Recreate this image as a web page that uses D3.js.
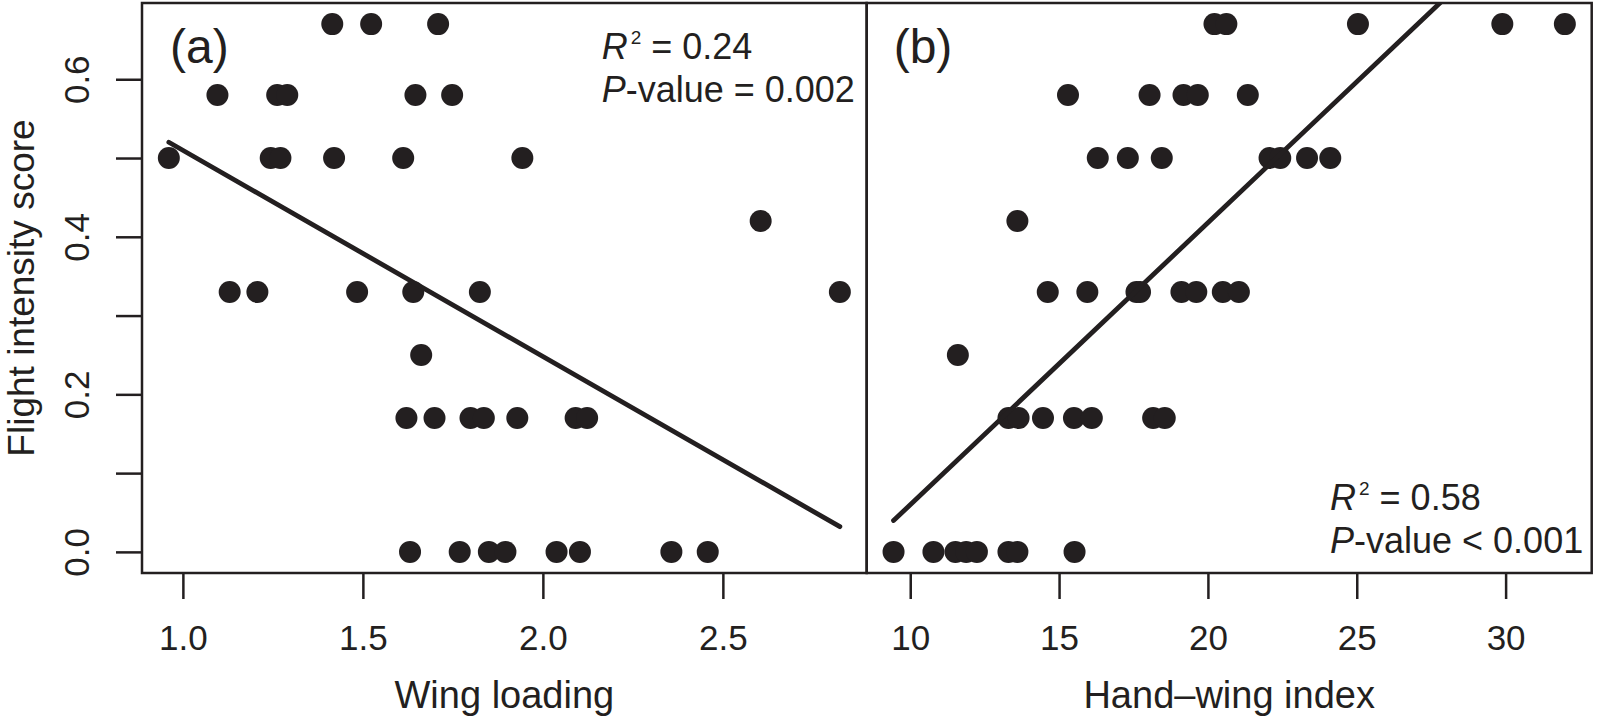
<!DOCTYPE html>
<html>
<head>
<meta charset="utf-8">
<script src="https://cdn.jsdelivr.net/npm/d3@7"></script>
<style>
  html, body { margin: 0; padding: 0; background: #fff; }
  svg { display: block; }
  text { font-family: "Liberation Sans", Arial, Helvetica, sans-serif; fill: #231f20; }
</style>
</head>
<body>
<svg id="chart" width="1598" height="725"></svg>
<script>
// ---------- DATA ----------
const yTickValues = [0, 0.1, 0.2, 0.3, 0.4, 0.5, 0.6];
const yTickLabels = ["0.0", "", "0.2", "", "0.4", "", "0.6"];
const xTicksA = [1.0, 1.5, 2.0, 2.5];
const xTickLabelsA = ["1.0", "1.5", "2.0", "2.5"];
const xTicksB = [10, 15, 20, 25, 30];
const xTickLabelsB = ["10", "15", "20", "25", "30"];

// Panel (a): wing loading vs flight intensity score
const wingLoading = [
  1.415, 1.523, 1.709,
  1.096, 1.262, 1.290, 1.646, 1.748,
  0.961, 1.244, 1.271, 1.420, 1.612, 1.943,
  2.605,
  1.130, 1.207, 1.484, 1.640, 1.825, 2.825,
  1.662,
  1.621, 1.699, 1.799, 1.836, 1.929, 2.091, 2.123,
  1.631, 1.769, 1.850, 1.896, 2.038, 2.103, 2.357, 2.458
];
const scoreA = [
  0.67, 0.67, 0.67,
  0.58, 0.58, 0.58, 0.58, 0.58,
  0.50, 0.50, 0.50, 0.50, 0.50, 0.50,
  0.42,
  0.33, 0.33, 0.33, 0.33, 0.33, 0.33,
  0.25,
  0.17, 0.17, 0.17, 0.17, 0.17, 0.17, 0.17,
  0, 0, 0, 0, 0, 0, 0, 0
];

// Panel (b): hand-wing index vs flight intensity score
const handWing = [
  20.22, 20.62, 25.04, 29.89, 31.99,
  15.30, 18.04, 19.18, 19.66, 21.34,
  16.30, 17.31, 18.45, 22.07, 22.43, 23.33, 24.11,
  13.60,
  14.62, 15.95, 17.60, 17.72, 19.11, 19.61, 20.50, 21.04,
  11.60,
  13.30, 13.64, 14.46, 15.50, 16.10, 18.16, 18.55,
  9.44, 10.78, 11.52, 11.88, 12.24, 13.30, 13.60, 15.52
];
const scoreB = [
  0.67, 0.67, 0.67, 0.67, 0.67,
  0.58, 0.58, 0.58, 0.58, 0.58,
  0.50, 0.50, 0.50, 0.50, 0.50, 0.50, 0.50,
  0.42,
  0.33, 0.33, 0.33, 0.33, 0.33, 0.33, 0.33, 0.33,
  0.25,
  0.17, 0.17, 0.17, 0.17, 0.17, 0.17, 0.17,
  0, 0, 0, 0, 0, 0, 0, 0
];

// Linear fits [intercept, slope]
const fitA = [0.7716, -0.2618];
const fitB = [-0.2982, 0.0358];

const panelTags = ["(a)", "(b)"];
const xTitles = ["Wing loading", "Hand\u2013wing index"];
const yTitle = "Flight intensity score";
const statsA = ["0.24", "= 0.002"];
const statsB = ["0.58", "< 0.001"];

// ---------- LAYOUT ----------
const svg = d3.select("#chart");
const plotTop = 3, plotBottom = 573;
const panels = [
  { x0: 142, x1: 866.7, xs: wingLoading, ys: scoreA, ticks: xTicksA, labels: xTickLabelsA, fit: fitA,
    tag: panelTags[0], title: xTitles[0], stats: statsA, statsX: 601.7, statsY: 59.3, yAxis: true },
  { x0: 866.7, x1: 1591.7, xs: handWing, ys: scoreB, ticks: xTicksB, labels: xTickLabelsB, fit: fitB,
    tag: panelTags[1], title: xTitles[1], stats: statsB, statsX: 1330, statsY: 510, yAxis: false }
];

function padded(ext) {
  const d = ext[1] - ext[0];
  return [ext[0] - 0.04 * d, ext[1] + 0.04 * d];
}
const yAll = scoreA.concat(scoreB);
const y = d3.scaleLinear().domain(padded(d3.extent(yAll))).range([plotBottom, plotTop]);

const ink = "#231f20";
const tickLen = 26;

panels.forEach((p, i) => {
  const x = d3.scaleLinear().domain(padded(d3.extent(p.xs))).range([p.x0, p.x1]);
  const g = svg.append("g");

  const clipId = "clip" + i;
  svg.append("clipPath").attr("id", clipId)
    .append("rect").attr("x", p.x0).attr("y", plotTop).attr("width", p.x1 - p.x0).attr("height", plotBottom - plotTop);

  // points
  g.append("g").selectAll("circle")
    .data(p.xs.map((v, k) => [v, p.ys[k]]))
    .join("circle")
    .attr("cx", d => x(d[0]))
    .attr("cy", d => y(d[1]))
    .attr("r", 11)
    .attr("fill", ink);

  // regression line
  const ext = d3.extent(p.xs);
  const lineData = ext.map(v => [v, p.fit[0] + p.fit[1] * v]);
  g.append("path")
    .attr("clip-path", `url(#${clipId})`)
    .attr("d", d3.line().x(d => x(d[0])).y(d => y(d[1]))(lineData))
    .attr("fill", "none")
    .attr("stroke", ink)
    .attr("stroke-width", 4.8)
    .attr("stroke-linecap", "round");

  // x axis
  const xAxis = d3.axisBottom(x).tickValues(p.ticks)
    .tickFormat((d, k) => p.labels[k])
    .tickSize(tickLen).tickPadding(0);
  const xa = g.append("g").attr("transform", `translate(0,${plotBottom})`).call(xAxis);
  xa.select(".domain").remove();
  xa.selectAll("line").attr("stroke", ink).attr("stroke-width", 2.5);
  xa.selectAll("text").attr("y", 77).attr("dy", null)
    .style("font-size", "35px").attr("fill", ink)
    .style("font-family", "'Liberation Sans', Arial, sans-serif");

  // y axis
  if (p.yAxis) {
    const yAxis = d3.axisLeft(y).tickValues(yTickValues)
      .tickFormat((d, k) => yTickLabels[k])
      .tickSize(tickLen).tickPadding(0);
    const ya = g.append("g").attr("transform", `translate(${p.x0},0)`).call(yAxis);
    ya.select(".domain").remove();
    ya.selectAll("line").attr("stroke", ink).attr("stroke-width", 2.5);
    ya.selectAll("text")
      .attr("x", null).attr("dy", null)
      .attr("text-anchor", "middle")
      .attr("transform", `translate(${89 - p.x0},0) rotate(-90)`)
      .style("font-size", "35px").attr("fill", ink)
      .style("font-family", "'Liberation Sans', Arial, sans-serif");
  }

  // box
  g.append("rect")
    .attr("x", p.x0).attr("y", plotTop)
    .attr("width", p.x1 - p.x0).attr("height", plotBottom - plotTop)
    .attr("fill", "none").attr("stroke", ink).attr("stroke-width", 2.5);

  // panel tag
  g.append("text").attr("x", p.x0 + (i === 0 ? 28 : 27)).attr("y", 63)
    .style("font-size", "48px").text(p.tag);

  // x title
  g.append("text").attr("x", (p.x0 + p.x1) / 2).attr("y", 708)
    .attr("text-anchor", "middle").style("font-size", "38px").text(p.title);

  // stats
  const t1 = g.append("text").attr("x", p.statsX).attr("y", p.statsY).style("font-size", "36px");
  t1.append("tspan").style("font-style", "italic").text("R");
  t1.append("tspan").attr("dy", -15).attr("dx", 3).style("font-size", "19px").text("2");
  t1.append("tspan").attr("dy", 15).text(" = " + p.stats[0]);
  const t2 = g.append("text").attr("x", p.statsX).attr("y", p.statsY + 42.5).style("font-size", "36px");
  t2.append("tspan").style("font-style", "italic").text("P");
  t2.append("tspan").text("-value " + p.stats[1]);
});

// y title
svg.append("text")
  .attr("transform", `translate(34,${(plotTop + plotBottom) / 2}) rotate(-90)`)
  .attr("text-anchor", "middle")
  .style("font-size", "37px")
  .text(yTitle);
</script>
</body>
</html>
